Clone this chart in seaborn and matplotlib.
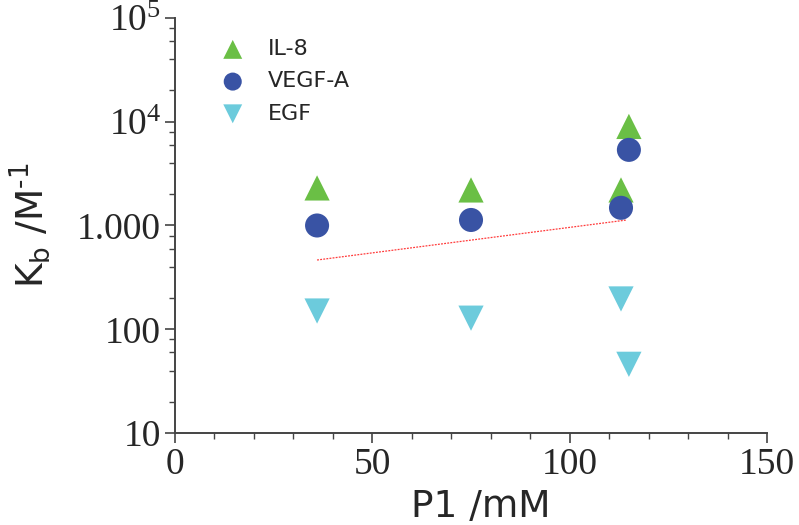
import numpy as np
import pandas as pd
import seaborn as sns
import matplotlib.pyplot as plt
from matplotlib.ticker import FixedLocator, NullFormatter, MultipleLocator

# values
p1_mm = [36, 75, 113, 115]
il8_kb = [2300, 2200, 2200, 9000]
vegfa_kb = [1000, 1130, 1480, 5350]
egf_kb = [150, 128, 196, 46]

# dotted trend line end points
fit_x = [36, 114.5]
fit_y = [465, 1130]

series = {"IL-8": il8_kb, "VEGF-A": vegfa_kb, "EGF": egf_kb}
markers = {"IL-8": "^", "VEGF-A": "o", "EGF": "v"}
colors = {"IL-8": "#6abf45", "VEGF-A": "#3953a4", "EGF": "#6ccbdc"}
sizes = {"IL-8": 330, "VEGF-A": 300, "EGF": 330}

y_ticks = [10, 100, 1000, 1e4, 1e5]
y_labels = ["10", "100", "1.000", r"$\mathregular{10^4}$", r"$\mathregular{10^5}$"]

df = pd.concat(
    [pd.DataFrame({"P1": p1_mm, "Kb": v, "protein": k}) for k, v in series.items()],
    ignore_index=True,
)

sns.set_style("ticks")
plt.rcParams["font.family"] = ["DejaVu Sans"]

fig = plt.figure(figsize=(7.99, 5.25), dpi=100)
ax = fig.add_axes([0.219, 0.175, 0.741, 0.791])

for name in series:
    sub = df[df["protein"] == name]
    sns.scatterplot(data=sub, x="P1", y="Kb", marker=markers[name],
                    color=colors[name], s=sizes[name], edgecolor="none",
                    label=name, ax=ax, zorder=3)

sns.lineplot(x=fit_x, y=fit_y, ax=ax, color="#ff3b3b", linestyle=(0, (1.5, 1)),
             linewidth=0.9, zorder=2)

ax.set_yscale("log")
ax.set_xlim(0, 150)
ax.set_ylim(10, 1e5)

ax.xaxis.set_major_locator(MultipleLocator(50))
ax.xaxis.set_minor_locator(MultipleLocator(10))
ax.yaxis.set_major_locator(FixedLocator(y_ticks))
ax.set_yticklabels(y_labels)
minor = [m * 10 ** e for e in range(1, 5) for m in (2, 4, 6, 8)]
ax.yaxis.set_minor_locator(FixedLocator(minor))
ax.yaxis.set_minor_formatter(NullFormatter())

for lab in ax.get_xticklabels() + ax.get_yticklabels():
    lab.set_fontfamily("Liberation Serif")
    lab.set_fontsize(27)

sns.despine(ax=ax)
for side in ("left", "bottom"):
    ax.spines[side].set_color("#444444")
    ax.spines[side].set_linewidth(1.4)
ax.tick_params(which="major", length=7, width=1.2, color="#444444", pad=3)
ax.tick_params(which="minor", length=4, width=1.0, color="#444444")

ax.set_xlabel("P1 /mM", fontsize=27)
ax.xaxis.set_label_coords(0.517, -0.135)
ax.set_ylabel("K$_\\mathregular{b}$ /M$^\\mathregular{\u20101}$", fontsize=27, labelpad=17)

ax.legend(loc="upper left", bbox_to_anchor=(0.045, 0.97), frameon=False,
          fontsize=16, handletextpad=0.6, labelspacing=0.55, borderaxespad=0,
          markerscale=0.75)

fig.savefig("out.png", dpi=100)
